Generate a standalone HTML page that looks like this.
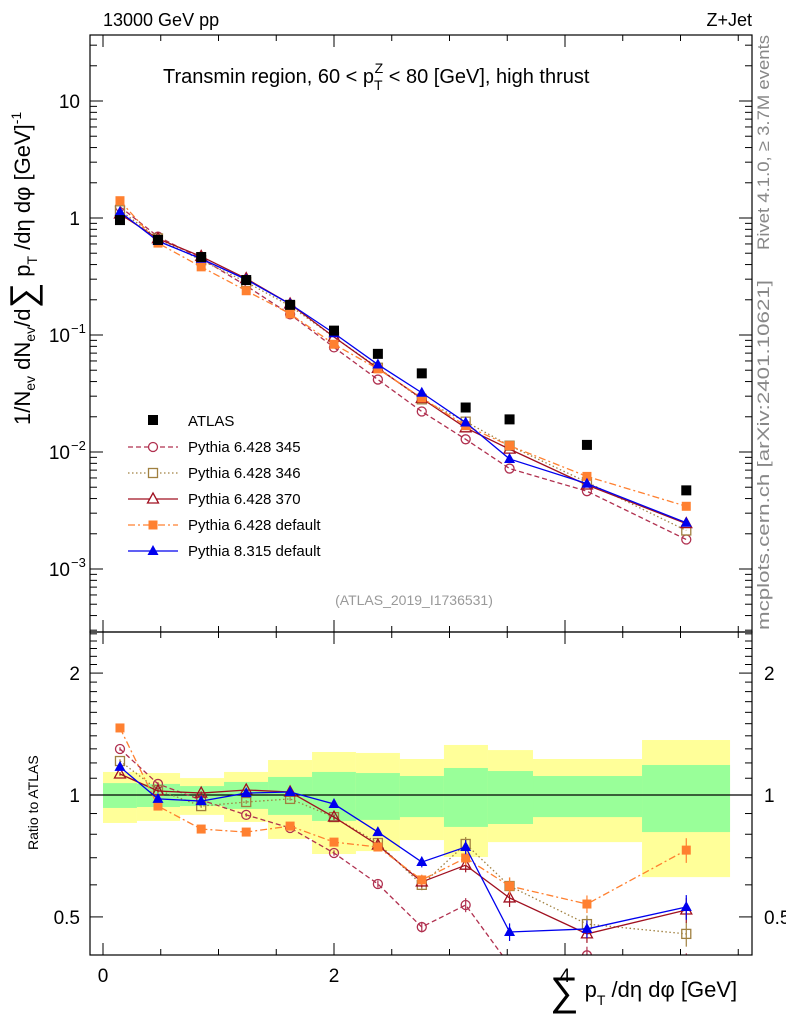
<!DOCTYPE html>
<html><head><meta charset="utf-8"><style>
body{margin:0;background:#fff;}
svg{display:block;font-family:"Liberation Sans",sans-serif;}
</style></head><body>
<svg id="c" width="786" height="1024"></svg>
<script>
const xCenters=[0.147,0.476,0.85,1.24,1.62,2.0,2.38,2.76,3.14,3.52,4.19,5.05];
const binEdges=[0,0.294,0.667,1.048,1.429,1.810,2.190,2.571,2.952,3.333,3.723,4.667,5.429];
const atlas=[0.96,0.65,0.464,0.295,0.181,0.109,0.069,0.047,0.024,0.019,0.0115,0.0047];
const r345=[1.299,1.065,0.972,0.893,0.829,0.719,0.603,0.472,0.535,0.38,0.402,0.38];
const r346=[1.213,1.029,0.939,0.961,0.978,0.882,0.761,0.600,0.757,0.596,0.480,0.454];
const r370=[1.127,1.023,1.011,1.029,1.017,0.882,0.752,0.610,0.671,0.557,0.454,0.520];
const rDef6=[1.464,0.939,0.824,0.810,0.838,0.765,0.744,0.617,0.699,0.596,0.538,0.731];
const rP8=[1.173,0.978,0.966,1.011,1.017,0.950,0.810,0.683,0.744,0.459,0.467,0.529];
const yelHi=[1.140,1.133,1.101,1.140,1.220,1.277,1.270,1.227,1.329,1.291,1.227,1.367];
const yelLo=[0.853,0.863,0.893,0.858,0.779,0.715,0.727,0.774,0.703,0.765,0.765,0.627];
const grnHi=[1.070,1.065,1.052,1.077,1.108,1.140,1.133,1.114,1.166,1.146,1.114,1.186];
const grnLo=[0.929,0.934,0.939,0.924,0.893,0.863,0.868,0.882,0.834,0.848,0.882,0.810];
const relErr=[0.01,0.01,0.01,0.01,0.01,0.015,0.02,0.03,0.04,0.05,0.05,0.07];

const NS="http://www.w3.org/2000/svg";
const svg=document.getElementById('c');
function el(t,a,p){const e=document.createElementNS(NS,t);for(const k in a)e.setAttribute(k,a[k]);(p||svg).appendChild(e);return e;}
const L=90,R=752,T1=35,B1=632,B2=955;
const X=v=>103+v*115.5;
const Y1=v=>218-Math.log10(v)*117;
const Y2=v=>795-Math.log10(v)*405;
const clip=el('clipPath',{id:'cp2'});el('rect',{x:L,y:B1,width:R-L,height:B2-B1},clip);
const clip1=el('clipPath',{id:'cp1'});el('rect',{x:L,y:T1,width:R-L,height:B1-T1},clip1);

const gb=el('g',{});
for(let i=0;i<xCenters.length;i++){
 const x0=X(binEdges[i]),x1=X(binEdges[i+1]);
 el('rect',{x:x0,y:Y2(yelHi[i]),width:x1-x0,height:Y2(yelLo[i])-Y2(yelHi[i]),fill:'#ffff99'},gb);
 el('rect',{x:x0,y:Y2(grnHi[i]),width:x1-x0,height:Y2(grnLo[i])-Y2(grnHi[i]),fill:'#99ff99'},gb);
}
el('line',{x1:L,x2:R,y1:795,y2:795,stroke:'#000','stroke-width':1.2});

const series=[
 {n:'pythia-6428-345',r:r345,c:'#b0304f',d:'5,3',m:'circle'},
 {n:'pythia-6428-346',r:r346,c:'#a08040',d:'1.5,2.5',m:'square-open'},
 {n:'pythia-6428-370',r:r370,c:'#a01020',d:'',m:'tri-open'},
 {n:'pythia-6428-default',r:rDef6,c:'#ff8030',d:'7,3,2,3',m:'square'},
 {n:'pythia-8315-default',r:rP8,c:'#0000ee',d:'',m:'tri'}];

function marker(g,m,x,y,c){
 if(m==='circle')el('circle',{cx:x,cy:y,r:4.5,fill:'none',stroke:c,'stroke-width':1.3},g);
 else if(m==='square-open')el('rect',{x:x-4.5,y:y-4.5,width:9,height:9,fill:'none',stroke:c,'stroke-width':1.3},g);
 else if(m==='square')el('rect',{x:x-4.5,y:y-4.5,width:9,height:9,fill:c},g);
 else if(m==='tri-open')el('path',{d:`M${x} ${y-6}L${x+5.5} ${y+4}L${x-5.5} ${y+4}Z`,fill:'none',stroke:c,'stroke-width':1.3},g);
 else if(m==='tri')el('path',{d:`M${x} ${y-6}L${x+5.5} ${y+4}L${x-5.5} ${y+4}Z`,fill:c},g);
}
series.forEach(s=>{
 const g1=el('g',{'clip-path':'url(#cp1)'});
 const g2=el('g',{'clip-path':'url(#cp2)'});
 const p1=xCenters.map((x,i)=>X(x)+','+Y1(atlas[i]*s.r[i])).join(' ');
 const p2=xCenters.map((x,i)=>X(x)+','+Y2(s.r[i])).join(' ');
 el('polyline',{points:p1,fill:'none',stroke:s.c,'stroke-width':1.3,'stroke-dasharray':s.d},g1);
 el('polyline',{points:p2,fill:'none',stroke:s.c,'stroke-width':1.3,'stroke-dasharray':s.d},g2);
 xCenters.forEach((x,i)=>{
  marker(g1,s.m,X(x),Y1(atlas[i]*s.r[i]),s.c);
  const e=relErr[i];
  el('line',{x1:X(x),x2:X(x),y1:Y2(s.r[i]*(1+e)),y2:Y2(s.r[i]*(1-e)),stroke:s.c,'stroke-width':1.2},g2);
  marker(g2,s.m,X(x),Y2(s.r[i]),s.c);
 });
});
const ga=el('g',{});
xCenters.forEach((x,i)=>el('rect',{x:X(x)-5,y:Y1(atlas[i])-5,width:10,height:10,fill:'#000'},ga));

el('rect',{x:L,y:T1,width:R-L,height:B1-T1,fill:'none',stroke:'#000','stroke-width':1.2});
el('rect',{x:L,y:B1,width:R-L,height:B2-B1,fill:'none',stroke:'#000','stroke-width':1.2});
for(let v=0;v<=5.5;v+=0.5){const x=X(v);const maj=v%2===0;const len=maj?12:6;
 [[B2,-1],[B1,1],[B1,-1],[T1,1]].forEach(([y,d])=>el('line',{x1:x,x2:x,y1:y,y2:y+d*len,stroke:'#000'}));
 if(maj){const t=el('text',{x:x,y:982,'font-size':19,'text-anchor':'middle'});t.textContent=v;}
}
for(let e=-4;e<=1;e++)for(let k=1;k<10;k++){const v=k*Math.pow(10,e);const y=Y1(v);if(y<T1||y>B1)continue;const len=k===1?13:7;
 el('line',{x1:L,x2:L+len,y1:y,y2:y,stroke:'#000'});el('line',{x1:R,x2:R-len,y1:y,y2:y,stroke:'#000'});}
[[10,'10',''],[1,'1',''],[0.1,'10','−1'],[0.01,'10','−2'],[0.001,'10','−3']].forEach(([v,b,s])=>{
 const t=el('text',{x:s?70:80,y:Y1(v)+7,'font-size':19,'text-anchor':'end'});t.textContent=b;
 if(s){const u=el('text',{x:71,y:Y1(v)-2,'font-size':13});u.textContent=s;}
});
for(let k=4;k<=25;k++){const v=k/10;const y=Y2(v);if(y<B1||y>B2)continue;const maj=(v===0.5||v===1||v===2);const len=maj?13:7;
 el('line',{x1:L,x2:L+len,y1:y,y2:y,stroke:'#000'});el('line',{x1:R,x2:R-len,y1:y,y2:y,stroke:'#000'});}
[[2,'2'],[1,'1'],[0.5,'0.5']].forEach(([v,s])=>{
 const a=el('text',{x:80,y:Y2(v)+7,'font-size':19,'text-anchor':'end'});a.textContent=s;
 const b=el('text',{x:764,y:Y2(v)+7,'font-size':19});b.textContent=s;});
</script>
<div style="position:absolute;left:0;top:0;width:786px;height:1024px;pointer-events:none">
<svg width="786" height="1024" style="position:absolute;left:0;top:0">
<text x="103" y="26" font-size="18">13000 GeV pp</text>
<text x="752" y="26" font-size="18" text-anchor="end">Z+Jet</text>
<text x="163" y="83" font-size="20">Transmin region, 60 &lt; p<tspan font-size="14" dy="7">T</tspan><tspan font-size="14" dx="-8" dy="-17">Z</tspan><tspan dy="10"> &lt; 80 [GeV], high thrust</tspan></text>
<text transform="translate(769,250) rotate(-90)" font-size="17" fill="#888" textLength="215" lengthAdjust="spacingAndGlyphs">Rivet 4.1.0, ≥ 3.7M events</text>
<text transform="translate(769,630) rotate(-90)" font-size="17" fill="#888" textLength="350" lengthAdjust="spacingAndGlyphs">mcplots.cern.ch [arXiv:2401.10621]</text>
<text transform="translate(30,425) rotate(-90)" font-size="22">1/N<tspan font-size="14" dy="5">ev</tspan><tspan dy="-5"> dN</tspan><tspan font-size="14" dy="5">ev</tspan><tspan dy="-5">/d</tspan><tspan font-size="36" dy="5">∑</tspan><tspan dy="-5"> p</tspan><tspan font-size="14" dy="7">T</tspan><tspan dy="-7"> /dη dφ  [GeV]</tspan><tspan font-size="14" dy="-9">-1</tspan></text>
<text transform="translate(38,850) rotate(-90)" font-size="14">Ratio to ATLAS</text>
<text x="550" y="1005" font-size="22"><tspan font-size="40">∑</tspan><tspan dy="-8"> p</tspan><tspan font-size="14" dy="8">T</tspan><tspan dy="-8"> /dη dφ [GeV]</tspan></text>
<text x="414" y="605" font-size="14" fill="#999" text-anchor="middle">(ATLAS_2019_I1736531)</text>
<g font-size="15">
<rect x="148" y="415" width="10" height="10" fill="#000"/><text x="188" y="426">ATLAS</text>
<line x1="128" x2="178" y1="447" y2="447" stroke="#b0304f" stroke-width="1.3" stroke-dasharray="5,3"/><circle cx="153" cy="447" r="4.5" fill="#fff" stroke="#b0304f" stroke-width="1.3"/><text x="188" y="452">Pythia 6.428 345</text>
<line x1="128" x2="178" y1="473" y2="473" stroke="#a08040" stroke-width="1.3" stroke-dasharray="1.5,2.5"/><rect x="148.5" y="468.5" width="9" height="9" fill="#fff" stroke="#a08040" stroke-width="1.3"/><text x="188" y="478">Pythia 6.428 346</text>
<line x1="128" x2="178" y1="499" y2="499" stroke="#a01020" stroke-width="1.3"/><path d="M153 493L158.5 503L147.5 503Z" fill="#fff" stroke="#a01020" stroke-width="1.3"/><text x="188" y="504">Pythia 6.428 370</text>
<line x1="128" x2="178" y1="525" y2="525" stroke="#ff8030" stroke-width="1.3" stroke-dasharray="7,3,2,3"/><rect x="148.5" y="520.5" width="9" height="9" fill="#ff8030"/><text x="188" y="530">Pythia 6.428 default</text>
<line x1="128" x2="178" y1="551" y2="551" stroke="#0000ee" stroke-width="1.3"/><path d="M153 545L158.5 555L147.5 555Z" fill="#0000ee"/><text x="188" y="556">Pythia 8.315 default</text>
</g>
</svg></div>
</body></html>
